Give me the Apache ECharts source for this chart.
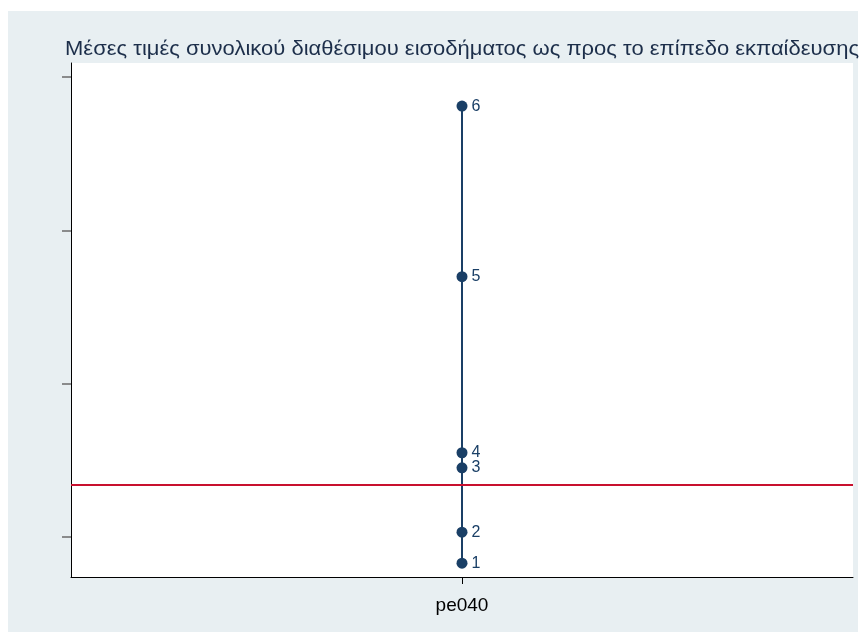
<!DOCTYPE html>
<html>
<head>
<meta charset="utf-8">
<script src="https://cdn.jsdelivr.net/npm/echarts@6/dist/echarts.min.js"></script>
<style>
html,body{margin:0;padding:0;background:#ffffff;}
#c{width:862px;height:635px;}
</style>
</head>
<body>
<div id="c"></div>
<script>
// Data
const titleText = "Μέσες τιμές συνολικού διαθέσιμου εισοδήματος ως προς το επίπεδο εκπαίδευσης";
const categories = ["pe040"];
const groupLabels = ["1", "2", "3", "4", "5", "6"];
const groupMeans = [9150, 10160, 12260, 12750, 18490, 24050];
const overallMean = 11700;
const yTicks = [10000, 15000, 20000, 25000];
const yMin = 8700;
const yMax = 25455;

const chart = echarts.init(document.getElementById('c'), null, {renderer: 'canvas'});

// measure title width to fit the reference span
const cv = document.createElement('canvas').getContext('2d');
const titleFont = '20px "Liberation Sans", Arial, sans-serif';
cv.font = titleFont;
const tw = cv.measureText(titleText).width;
const targetW = 794;
const sx = targetW / tw;

const pointData = groupMeans.map((v, i) => ({value: [categories[0], v], name: groupLabels[i]}));

chart.setOption({
  animation: false,
  backgroundColor: '#ffffff',
  graphic: [
    {type: 'rect', left: 8, top: 11, z: -10, shape: {width: 850, height: 621}, style: {fill: '#e8eff2'}},
    {type: 'rect', left: 71, top: 63, z: -9, shape: {width: 782, height: 514}, style: {fill: '#ffffff'}},
    {type: 'text', x: 65, y: 49, scaleX: sx, originX: 0, originY: 0,
     style: {text: titleText, font: titleFont, fill: '#1c2e4a', verticalAlign: 'middle', align: 'left'}}
  ],
  grid: {left: 71, top: 63, width: 782, height: 514, containLabel: false},
  xAxis: {
    type: 'category',
    data: categories,
    boundaryGap: true,
    axisLine: {show: true, lineStyle: {color: '#000000', width: 1}},
    axisTick: {show: true, alignWithLabel: true, length: 7, lineStyle: {color: '#000000'}},
    axisLabel: {color: '#000000', fontSize: 19, fontFamily: 'Liberation Sans', margin: 19},
    splitLine: {show: false}
  },
  yAxis: {
    type: 'value',
    min: yMin,
    max: yMax,
    axisLine: {show: true, lineStyle: {color: '#000000', width: 1}},
    axisTick: {show: true, length: 9, customValues: yTicks, lineStyle: {color: '#6b6b6b', width: 1.5}},
    axisLabel: {show: false, customValues: yTicks},
    splitLine: {show: false}
  },
  series: [{
    type: 'line',
    data: pointData,
    symbol: 'circle',
    symbolSize: 11,
    lineStyle: {color: '#1a3f66', width: 2},
    itemStyle: {color: '#1a3f66'},
    label: {
      show: true, position: 'right', distance: 4,
      formatter: p => p.name,
      color: '#1a3f66', fontSize: 16, fontFamily: 'Liberation Sans'
    },
    markLine: {
      silent: true,
      symbol: 'none',
      label: {show: false},
      lineStyle: {color: '#c8102e', width: 2, type: 'solid'},
      data: [{yAxis: overallMean}]
    },
    z: 3
  }]
});
</script>
</body>
</html>
